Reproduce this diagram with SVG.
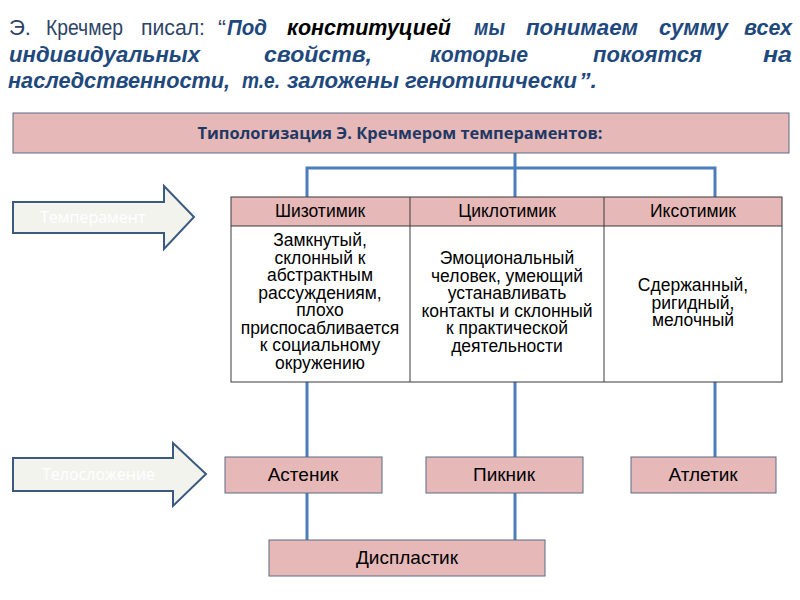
<svg xmlns="http://www.w3.org/2000/svg" width="800" height="600" viewBox="0 0 800 600">
<style>
.q{font-family:"Liberation Sans",Arial,sans-serif;font-size:22px;font-weight:bold;font-style:italic;fill:#1F497D}
.qn{font-weight:normal;font-style:normal;fill:#2E4466}
.qk{fill:#000}
.box{fill:#E6B9B8;stroke:#5B6B85;stroke-width:1}
.cell{fill:none;stroke:#3A3A3A;stroke-width:1}
.t{font-family:"Liberation Sans",Arial,sans-serif;font-size:17.5px;fill:#000;text-anchor:middle}
.tb{font-family:"Liberation Sans",Arial,sans-serif;font-size:19px;fill:#000;text-anchor:middle}
.arr{fill:#F3F3EE;stroke:#3B5A80;stroke-width:2}
.at{font-family:"Open Sans","Noto Sans",sans-serif;font-size:16px;fill:#FFFFFF}
.con{stroke:#4A7DBA;stroke-width:3;fill:none}
</style>
<g id="quote">
<text class="q qn" x="9" y="35" textLength="22" lengthAdjust="spacingAndGlyphs">Э.</text>
<text class="q qn" x="46" y="35" textLength="77" lengthAdjust="spacingAndGlyphs">Кречмер</text>
<text class="q qn" x="141" y="35" textLength="64" lengthAdjust="spacingAndGlyphs">писал:</text>
<text class="q qn" x="218" y="35" textLength="8" lengthAdjust="spacingAndGlyphs">“</text>
<text class="q" x="227" y="35" textLength="40" lengthAdjust="spacingAndGlyphs">Под</text>
<text class="q qk" x="287" y="35" textLength="164" lengthAdjust="spacingAndGlyphs">конституцией</text>
<text class="q" x="474" y="35" textLength="31" lengthAdjust="spacingAndGlyphs">мы</text>
<text class="q" x="526" y="35" textLength="112" lengthAdjust="spacingAndGlyphs">понимаем</text>
<text class="q" x="659" y="35" textLength="69" lengthAdjust="spacingAndGlyphs">сумму</text>
<text class="q" x="744" y="35" textLength="48" lengthAdjust="spacingAndGlyphs">всех</text>
<text class="q" x="9" y="62" textLength="191" lengthAdjust="spacingAndGlyphs">индивидуальных</text>
<text class="q" x="264" y="62" textLength="108" lengthAdjust="spacingAndGlyphs">свойств,</text>
<text class="q" x="430" y="62" textLength="98" lengthAdjust="spacingAndGlyphs">которые</text>
<text class="q" x="593" y="62" textLength="109" lengthAdjust="spacingAndGlyphs">покоятся</text>
<text class="q" x="763" y="62" textLength="29" lengthAdjust="spacingAndGlyphs">на</text>
<text class="q" x="8" y="88" textLength="222" lengthAdjust="spacingAndGlyphs">наследственности,</text>
<text class="q" x="242" y="88" textLength="38" lengthAdjust="spacingAndGlyphs">т.е.</text>
<text class="q" x="287" y="88" textLength="112" lengthAdjust="spacingAndGlyphs">заложены</text>
<text class="q" x="405" y="88" textLength="172" lengthAdjust="spacingAndGlyphs">генотипически</text>
<text class="q" x="579" y="88" textLength="18" lengthAdjust="spacingAndGlyphs">”.</text>
</g>
<g id="connectors">
<line class="con" x1="515" y1="153" x2="515" y2="197"/>
<polyline class="con" points="307,197 307,168 715,168 715,197"/>
<line class="con" x1="307" y1="382" x2="307" y2="457"/>
<line class="con" x1="515" y1="382" x2="515" y2="457"/>
<line class="con" x1="715" y1="382" x2="715" y2="457"/>
<line class="con" x1="307" y1="493" x2="307" y2="540"/>
<line class="con" x1="515" y1="493" x2="515" y2="540"/>
</g>
<g id="header">
<rect class="box" x="13" y="113" width="776" height="40"/>
<text x="400" y="139" text-anchor="middle" textLength="405" lengthAdjust="spacingAndGlyphs" style="font-family:'Open Sans','Noto Sans',sans-serif;font-size:16px;font-weight:bold;fill:#1F3864">Типологизация Э. Кречмером темпераментов:</text>
</g>
<g id="arrow-temperament">
<polygon class="arr" points="13,202 164,202 164,186 194,217 164,249 164,233 13,233"/>
<text class="at" x="40" y="223">Темперамент</text>
</g>
<g id="arrow-body">
<polygon class="arr" points="13,458 173,458 173,443 206,474 173,506 173,491 13,491"/>
<text class="at" x="42" y="480">Телосложение</text>
</g>
<g id="table">
<rect x="231" y="197" width="551" height="29" fill="#E6B9B8"/>
<rect class="cell" x="231" y="197" width="551" height="185"/>
<line class="cell" x1="231" y1="226" x2="782" y2="226"/>
<line class="cell" x1="410" y1="197" x2="410" y2="382"/>
<line class="cell" x1="604" y1="197" x2="604" y2="382"/>
<g id="schizotimik">
<text class="t" x="320" y="217">Шизотимик</text>
<text class="t" x="320"><tspan x="320" y="246">Замкнутый,</tspan><tspan x="320" y="263.5">склонный к</tspan><tspan x="320" y="281">абстрактным</tspan><tspan x="320" y="298.5">рассуждениям,</tspan><tspan x="320" y="316">плохо</tspan><tspan x="320" y="333.5">приспосабливается</tspan><tspan x="320" y="351">к социальному</tspan><tspan x="320" y="368.5">окружению</tspan></text>
</g>
<g id="cyclotimik">
<text class="t" x="507" y="217">Циклотимик</text>
<text class="t" x="507"><tspan x="507" y="264">Эмоциональный</tspan><tspan x="507" y="281.5">человек, умеющий</tspan><tspan x="507" y="299">устанавливать</tspan><tspan x="507" y="316.5">контакты и склонный</tspan><tspan x="507" y="334">к практической</tspan><tspan x="507" y="351.5">деятельности</tspan></text>
</g>
<g id="ixotimik">
<text class="t" x="693" y="217">Иксотимик</text>
<text class="t" x="693"><tspan x="693" y="291">Сдержанный,</tspan><tspan x="693" y="308.5">ригидный,</tspan><tspan x="693" y="326">мелочный</tspan></text>
</g>
</g>
<g id="astenik">
<rect class="box" x="225" y="457" width="157" height="36"/>
<text class="tb" x="303" y="481">Астеник</text>
</g>
<g id="piknik">
<rect class="box" x="426" y="457" width="157" height="36"/>
<text class="tb" x="504" y="481">Пикник</text>
</g>
<g id="atletik">
<rect class="box" x="631" y="457" width="145" height="36"/>
<text class="tb" x="703" y="481">Атлетик</text>
</g>
<g id="displastik">
<rect class="box" x="269" y="540" width="276" height="36"/>
<text class="tb" x="407" y="564">Диспластик</text>
</g>
</svg>
